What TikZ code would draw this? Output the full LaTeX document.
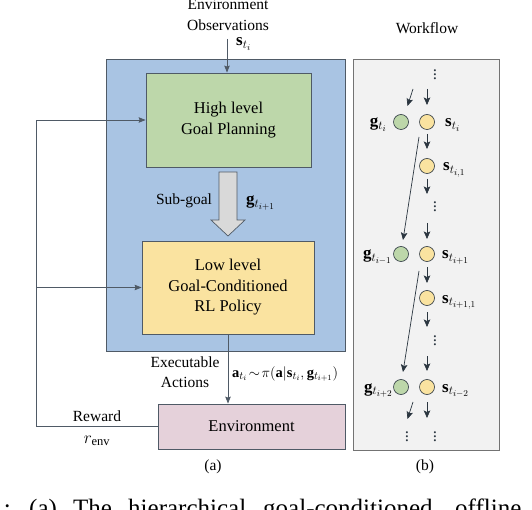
\documentclass[tikz,border=0pt]{standalone}
\usepackage{fontspec}
\setmainfont{Liberation Serif}
\usetikzlibrary{arrows.meta}
\DeclareMathSizes{17}{17}{12.5}{9.5}
\DeclareMathSizes{14.5}{14.5}{10.5}{8}
\definecolor{bluefill}{HTML}{A9C4E3}
\definecolor{greenfill}{HTML}{BDD7AA}
\definecolor{yellowfill}{HTML}{FAE3A0}
\definecolor{pinkfill}{HTML}{E5D1DA}
\definecolor{panelfill}{HTML}{F2F2F2}
\definecolor{edge}{HTML}{4F5A66}
\definecolor{wfdark}{HTML}{2B3640}
\begin{document}
\begin{tikzpicture}[x=1pt,y=-1pt,
  box/.style={draw=edge, line width=0.8pt, rectangle, inner sep=0pt, align=center,
              font=\fontsize{16.5}{20.5}\selectfont},
  lbl/.style={font=\fontsize{15.5}{19}\selectfont, inner sep=0pt},
  conn/.style={draw=edge, line width=0.8pt},
  arr/.style={conn, -{Stealth[length=7pt,width=5.5pt,inset=1pt]}},
  wfarr/.style={draw=wfdark, line width=0.7pt, -{Stealth[length=7.5pt,width=6.5pt,inset=1.5pt]}},
  gc/.style={circle, draw=wfdark, line width=0.6pt, fill=greenfill, minimum size=15pt, inner sep=0pt},
  yc/.style={circle, draw=wfdark, line width=0.6pt, fill=yellowfill, minimum size=15pt, inner sep=0pt},
  wflbl/.style={font=\fontsize{17}{20}\selectfont, inner sep=0pt},
  dotsn/.style={font=\fontsize{17}{19}\selectfont, inner sep=0pt, text=wfdark}]
\useasboundingbox (0,0) rectangle (532,510);
\begin{scope}
\clip (0,0) rectangle (532,510);

% ---------- panel (a) ----------
\node[box, fill=bluefill, minimum width=239pt, minimum height=292pt] (blue) at (225.5,205) {};
\node[box, fill=greenfill, minimum width=165pt, minimum height=94pt] (green) at (228.5,120)
  {High level\\Goal Planning};
\node[box, fill=yellowfill, minimum width=172pt, minimum height=93pt] (yellow) at (228,287.5)
  {Low level\\Goal-Conditioned\\RL Policy};
\node[box, fill=pinkfill, minimum width=187pt, minimum height=45pt] (env) at (251.5,426.5)
  {Environment};

% observations
\node[lbl, anchor=base] (obs1) at (228,10) {Environment};
\node[lbl, anchor=base] (obs2) at (228,31) {Observations};
\node[wflbl, anchor=base west] (slab) at (236,46) {$\mathbf{s}_{t_i}$};
\coordinate (obsin) at (227,39);
\draw[arr] (obsin) -- (obsin |- green.north);

% sub-goal big arrow
\draw[draw=edge, line width=0.7pt, fill=black!15]
  (219,172) -- (237,172) -- (237,220) -- (245,220) -- (228,236) -- (211,220) -- (219,220) -- cycle;
\node[lbl, anchor=base] (subgoal) at (184,205) {Sub-goal};
\node[wflbl, anchor=base west] (glab) at (246,205) {$\mathbf{g}_{t_{i+1}}$};

% actions
\coordinate (actx) at (228,0);
\draw[arr] (yellow.south -| actx) -- (env.north -| actx);
\node[lbl, anchor=base] (exe1) at (185,367) {Executable};
\node[lbl, anchor=base] (exe2) at (185,387) {Actions};
\node[anchor=base west, inner sep=0pt, font=\fontsize{14.5}{16}\selectfont] (alab) at (232,377)
  {$\mathbf{a}_{t_i}\!\sim\!\pi(\mathbf{a}|\mathbf{s}_{t_i},\mathbf{g}_{t_{i+1}})$};

% reward feedback
\coordinate (fbtop) at (36,120);
\coordinate (fbmid) at (36,287.5);
\draw[conn] (env.west) -| (fbtop);
\draw[arr] (fbtop) -- (green.west);
\draw[arr] (fbmid) -- (yellow.west);
\node[lbl, anchor=base] (rew) at (97,421) {Reward};
\node[wflbl, anchor=base] (renv) at (97,443) {$r_{\mathrm{env}}$};
\node[lbl, anchor=base] (capa) at (213,470) {(a)};

% ---------- panel (b) ----------
\node[lbl, anchor=base] (wf) at (427,34) {Workflow};
\node[draw=black!55, line width=0.8pt, fill=panelfill, minimum width=146pt, minimum height=391pt, inner sep=0pt] (panel) at (426,254.5) {};
\node[lbl, anchor=base] (capb) at (425,470) {(b)};

\node[dotsn] (d0) at (435,72) {$\vdots$};
\node[gc] (g1) at (401,122) {};
\node[yc] (s1) at (427,122) {};
\node[yc] (s11) at (427,166) {};
\node[dotsn] (d1) at (435,204) {$\vdots$};
\node[gc] (g2) at (401,254) {};
\node[yc] (s2) at (427,254) {};
\node[yc] (s21) at (427,298) {};
\node[dotsn] (d2) at (435,338) {$\vdots$};
\node[gc] (g3) at (401,387) {};
\node[yc] (s3) at (427,387) {};
\node[dotsn] (d3) at (407,434) {$\vdots$};
\node[dotsn] (d4) at (435,434) {$\vdots$};

\node[wflbl, anchor=base east] (lg1) at (387,127) {$\mathbf{g}_{t_i}$};
\node[wflbl, anchor=base west] (ls1) at (445,127) {$\mathbf{s}_{t_i}$};
\node[wflbl, anchor=base west] (ls11) at (443,171) {$\mathbf{s}_{t_{i,1}}$};
\node[wflbl, anchor=base east] (lg2) at (392,259) {$\mathbf{g}_{t_{i-1}}$};
\node[wflbl, anchor=base west] (ls2) at (442,259) {$\mathbf{s}_{t_{i+1}}$};
\node[wflbl, anchor=base west] (ls21) at (442,303) {$\mathbf{s}_{t_{i+1,1}}$};
\node[wflbl, anchor=base east] (lg3) at (393,392) {$\mathbf{g}_{t_{i+2}}$};
\node[wflbl, anchor=base west] (ls3) at (442,392) {$\mathbf{s}_{t_{i-2}}$};

% workflow arrows
\coordinate (a1s) at (413,89);  \coordinate (a1e) at (407.5,106);
\coordinate (a2s) at (427,89);  \coordinate (a2e) at (427,105);
\coordinate (a3s) at (427,134); \coordinate (a3e) at (427,149);
\coordinate (a4s) at (427,179); \coordinate (a4e) at (427,194);
\coordinate (a5s) at (427,223); \coordinate (a5e) at (427,239);
\coordinate (l1s) at (419,137); \coordinate (l1e) at (403,240);
\coordinate (a6s) at (427,267); \coordinate (a6e) at (427,283);
\coordinate (a7s) at (427,312); \coordinate (a7e) at (427,327);
\coordinate (a8s) at (427,356); \coordinate (a8e) at (427,371);
\coordinate (l2s) at (419,271); \coordinate (l2e) at (403,372);
\coordinate (a9s) at (427,402); \coordinate (a9e) at (427,418);
\coordinate (a10s) at (413,402); \coordinate (a10e) at (407.5,419);
\foreach \n in {a1,a2,a3,a4,a5,l1,a6,a7,a8,l2,a9,a10}
  \draw[wfarr] (\n s) -- (\n e);

% ---------- caption fragment ----------
\begin{scope}[font=\fontsize{25}{29}\selectfont]
\node[anchor=base east, inner sep=0pt] (c0) at (11,516) {1:};
\node[anchor=base west, inner sep=0pt] (c1) at (29,516) {(a)};
\node[anchor=base west, inner sep=0pt] (c2) at (73,516) {The};
\node[anchor=base west, inner sep=0pt] (c3) at (128,516) {hierarchical};
\node[anchor=base west, inner sep=0pt] (c4) at (263,516) {goal-conditioned};
\node[anchor=base west, inner sep=0pt] (c5) at (455,516) {offline};
\end{scope}
\end{scope}
\end{tikzpicture}
\end{document}
